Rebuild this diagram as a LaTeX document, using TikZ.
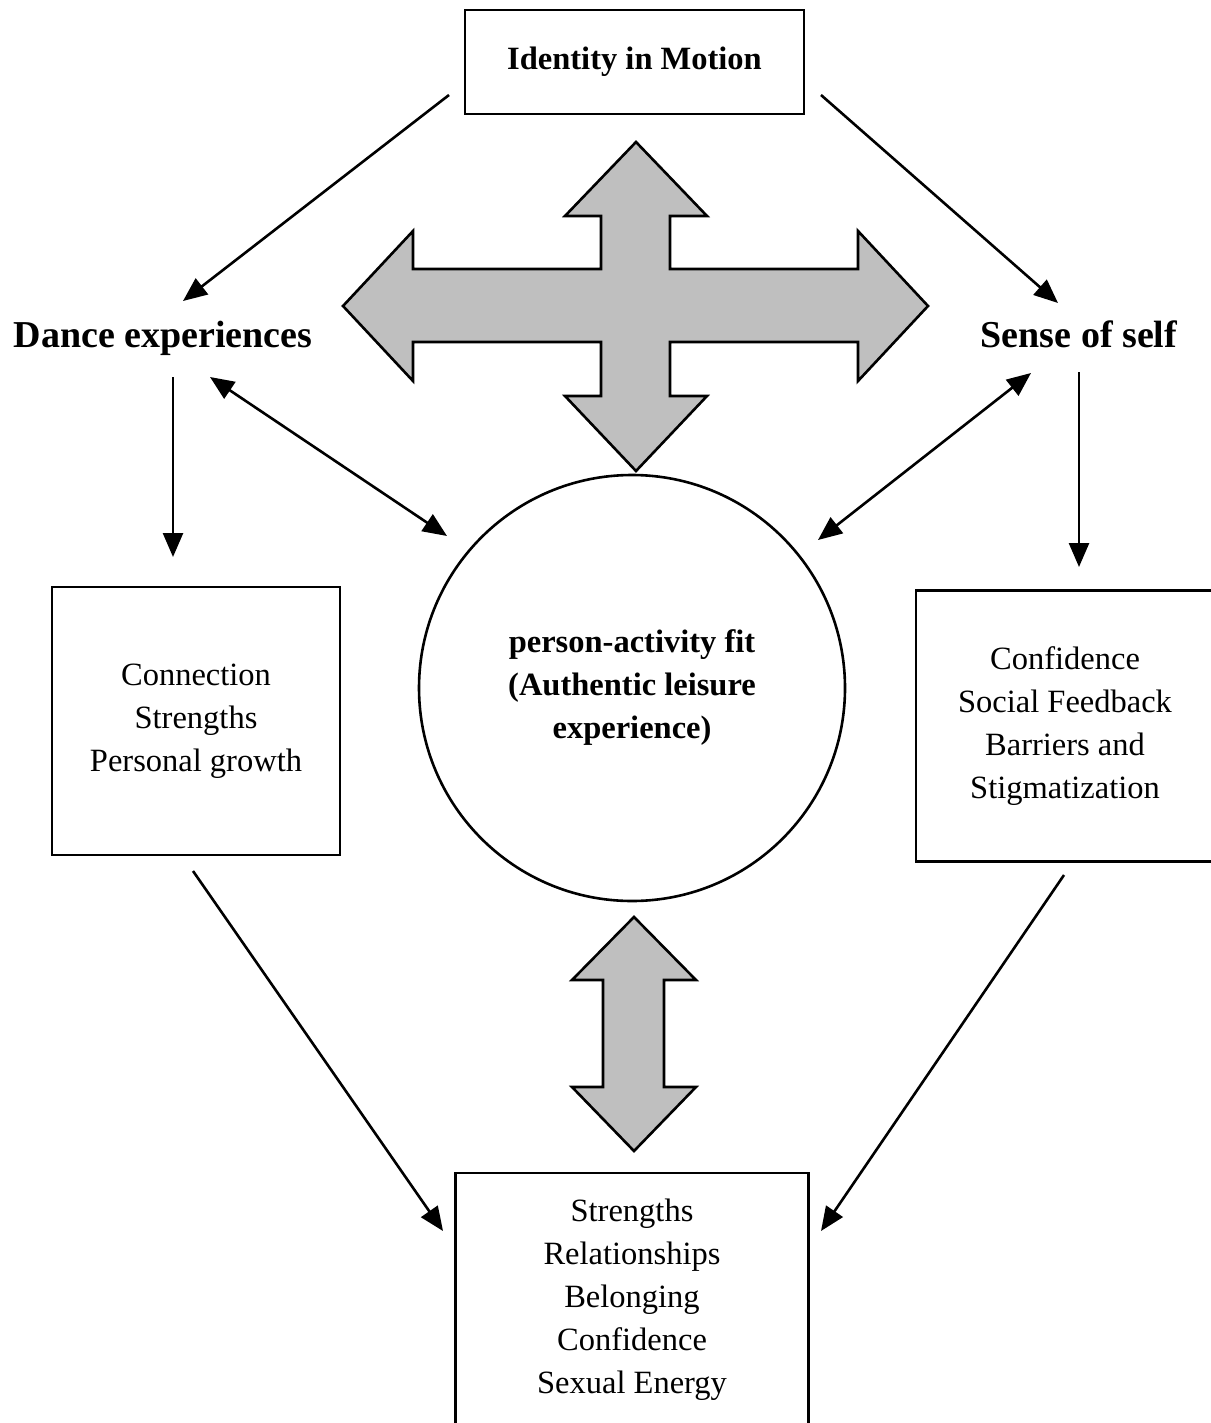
\documentclass[tikz,border=0pt]{standalone}
\usepackage{fontspec}
\setmainfont{Liberation Serif}
\usepackage{tikz}
\usetikzlibrary{arrows.meta}

\begin{document}
\begin{tikzpicture}[x=0.5pt,y=-0.5pt,line width=1.3pt,
                >={Triangle[length=12pt,width=10pt]},
                box node/.style={rectangle,draw=black,align=center,font=\fontsize{16.25}{21.5}\selectfont},
                head node/.style={anchor=base,font=\fontsize{19}{23}\selectfont\bfseries},
                big arrow/.style={draw=black,fill=gray!50,line join=miter}]

            \useasboundingbox (0,0) rectangle (1210,1423);

            \node[box node, minimum width=169.5pt, minimum height=52pt, font=\fontsize{16.25}{21.5}\selectfont\bfseries] (I) at (634.5,62) {Identity in Motion};
            \node[head node] (D) at (163,347) {Dance experiences};
            \node[head node] (S) at (1079,347) {Sense of self};
            \node[box node, minimum width=144pt, minimum height=134pt] (C) at (196,721) {Connection\\Strengths\\Personal growth};
            \node[box node, minimum width=149pt, minimum height=135.5pt] (F) at (1065,726) {Confidence\\Social Feedback\\Barriers and\\Stigmatization};
            \node[circle, draw=black, minimum size=213pt, align=center, font=\fontsize{16.25}{21.5}\selectfont\bfseries] (P) at (632,688) {person-activity fit\\(Authentic leisure\\experience)};
            \node[box node, minimum width=176.5pt, minimum height=127pt] (O) at (632,1300) {Strengths\\Relationships\\Belonging\\Confidence\\Sexual Energy};

            % four-way arrow
            \draw[big arrow] (636,142) -- (707,216) -- (670,216) -- (670,269) -- (858,269) -- (858,231)
                -- (928,306) -- (858,381) -- (858,342) -- (670,342) -- (670,396) -- (707,396)
                -- (636,471) -- (565,396) -- (601,396) -- (601,342) -- (413,342) -- (413,381)
                -- (343,306) -- (413,231) -- (413,269) -- (601,269) -- (601,216) -- (565,216) -- cycle;
            % up-down arrow
            \draw[big arrow] (634,917) -- (696,980) -- (664,980) -- (664,1087) -- (696,1087)
                -- (634,1151) -- (572,1087) -- (603,1087) -- (603,980) -- (572,980) -- cycle;

            \coordinate (i1) at (449,95);
            \coordinate (i2) at (821,95);
            \coordinate (d1) at (183,301);
            \coordinate (d2) at (173,377);
            \coordinate (d3) at (210,377);
            \coordinate (s1) at (1058,303);
            \coordinate (s2) at (1079,372);
            \coordinate (s3) at (1031,373);
            \coordinate (c1) at (173,557);
            \coordinate (c2) at (193,871);
            \coordinate (f1) at (1079,567);
            \coordinate (f2) at (1064,875);
            \coordinate (p1) at (447,536);
            \coordinate (p2) at (818,540);
            \coordinate (o1) at (443,1231);
            \coordinate (o2) at (821,1231);

            \path[->]
            (i1) edge (d1)
            (i2) edge (s1)
            (d2) edge (c1)
            (s2) edge (f1)
            (c2) edge (o1)
            (f2) edge (o2);
            \path[<->]
            (d3) edge (p1)
            (s3) edge (p2);

        \end{tikzpicture}
\end{document}
